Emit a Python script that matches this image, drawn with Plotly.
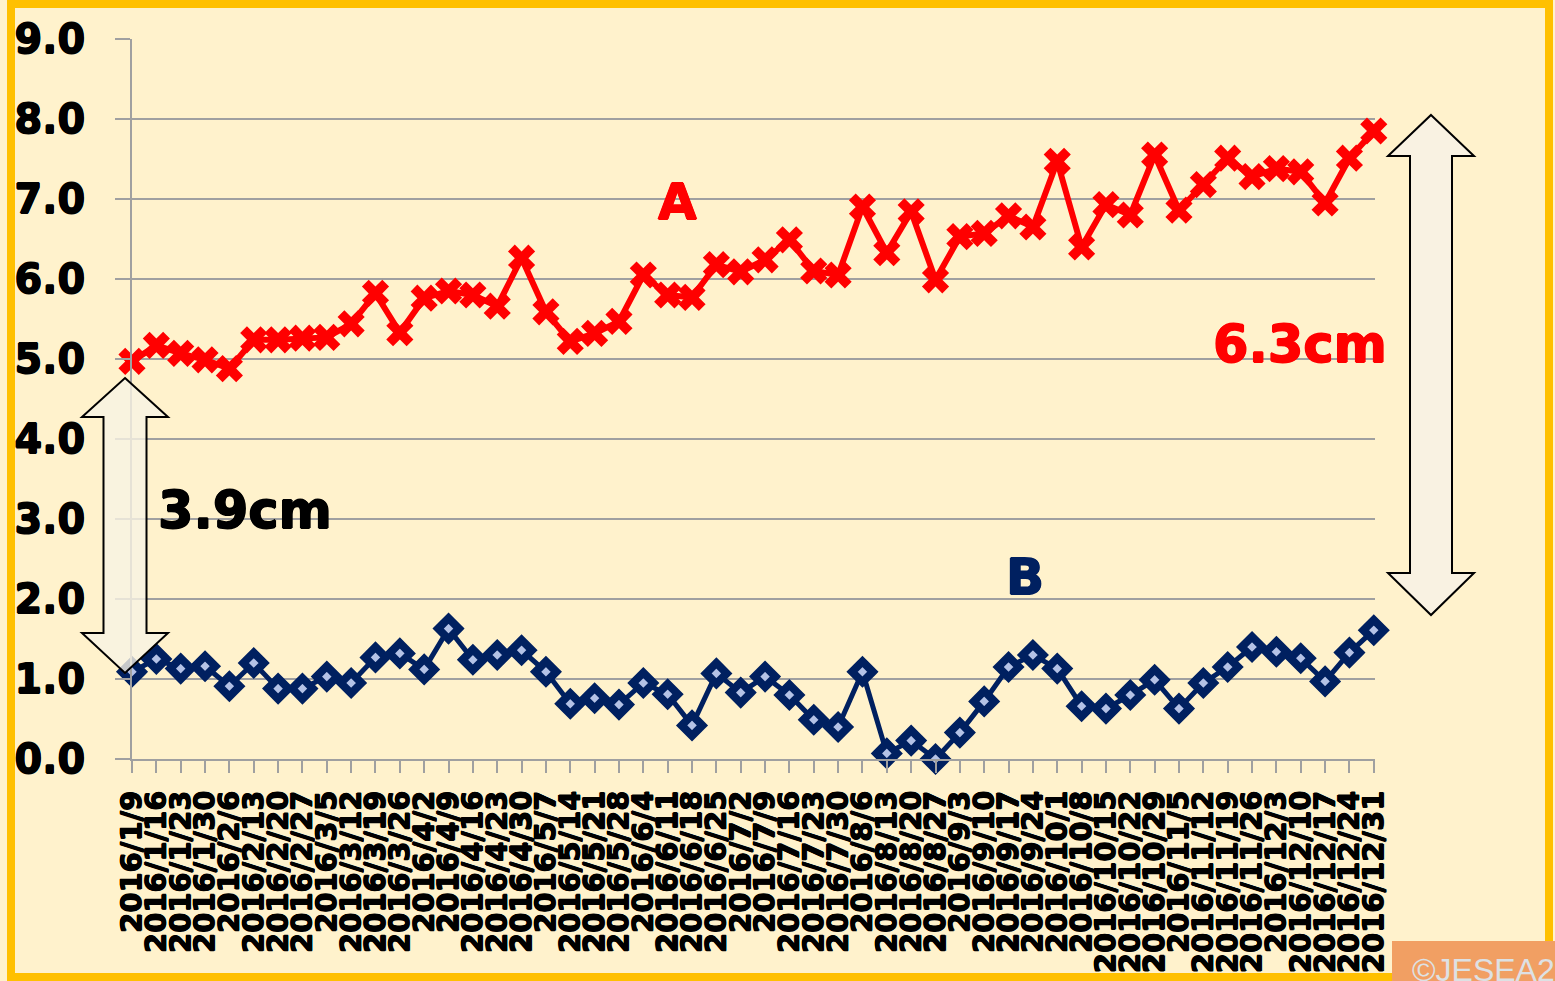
import plotly.graph_objects as go

dates = ["2016/1/9", "2016/1/16", "2016/1/23", "2016/1/30", "2016/2/6", "2016/2/13", "2016/2/20",
         "2016/2/27", "2016/3/5", "2016/3/12", "2016/3/19", "2016/3/26", "2016/4/2", "2016/4/9",
         "2016/4/16", "2016/4/23", "2016/4/30", "2016/5/7", "2016/5/14", "2016/5/21", "2016/5/28",
         "2016/6/4", "2016/6/11", "2016/6/18", "2016/6/25", "2016/7/2", "2016/7/9", "2016/7/16",
         "2016/7/23", "2016/7/30", "2016/8/6", "2016/8/13", "2016/8/20", "2016/8/27", "2016/9/3",
         "2016/9/10", "2016/9/17", "2016/9/24", "2016/10/1", "2016/10/8", "2016/10/15", "2016/10/22",
         "2016/10/29", "2016/11/5", "2016/11/12", "2016/11/19", "2016/11/26", "2016/12/3",
         "2016/12/10", "2016/12/17", "2016/12/24", "2016/12/31"]

series_a = [4.97, 5.17, 5.07, 4.99, 4.88, 5.24, 5.24, 5.26, 5.27, 5.44, 5.82, 5.33, 5.76, 5.85,
            5.8, 5.66, 6.26, 5.59, 5.22, 5.32, 5.47, 6.05, 5.8, 5.77, 6.18, 6.09, 6.24, 6.49, 6.1,
            6.05, 6.9, 6.33, 6.84, 5.99, 6.53, 6.57, 6.79, 6.65, 7.47, 6.4, 6.93, 6.8, 7.55, 6.86,
            7.18, 7.51, 7.28, 7.38, 7.34, 6.95, 7.51, 7.85]

series_b = [1.09, 1.25, 1.13, 1.16, 0.91, 1.2, 0.88, 0.88, 1.03, 0.95, 1.27, 1.32, 1.12, 1.63, 1.24,
            1.3, 1.36, 1.09, 0.69, 0.76, 0.68, 0.95, 0.81, 0.42, 1.07, 0.83, 1.03, 0.8, 0.49, 0.4,
            1.09, 0.07, 0.23, 0.0, 0.33, 0.72, 1.15, 1.3, 1.13, 0.66, 0.63, 0.8, 0.99, 0.63, 0.95,
            1.15, 1.4, 1.34, 1.26, 0.97, 1.33, 1.61]

W, H = 1555, 981
L, R, T, B = 132, 180, 39, 222
PW, PH = W - L - R, H - T - B

def px(x):
    return (x - L) / PW

def py(y):
    return (H - B - y) / PH

def path(pts):
    return "M " + " L ".join(f"{px(a):.5f},{py(b):.5f}" for a, b in pts) + " Z"

FONT = "DejaVu Sans"

def thick(c, w=0.6):
    return f"{w}px 0 0 {c}, -{w}px 0 0 {c}, 0 {w}px 0 {c}, 0 -{w}px 0 {c}"

fig = go.Figure()
fig.add_trace(go.Scatter(
    x=dates, y=series_a, mode="lines+markers", name="A",
    line=dict(color="#FF0000", width=6),
    marker=dict(symbol="x", size=24, color="#FF0000", line=dict(width=0)),
    cliponaxis=False))
fig.add_trace(go.Scatter(
    x=dates, y=series_b, mode="lines+markers", name="B",
    line=dict(color="#002060", width=5),
    marker=dict(symbol="diamond", size=16, color="#B4C2E6", line=dict(color="#002060", width=8)),
    cliponaxis=False))

def arrow(cx, top, hb1, hb2, bot, hw, sw):
    return [(cx, top), (cx + hw, hb1), (cx + sw, hb1), (cx + sw, hb2), (cx + hw, hb2), (cx, bot),
            (cx - hw, hb2), (cx - sw, hb2), (cx - sw, hb1), (cx - hw, hb1)]

shapes = [
    dict(type="path", xref="paper", yref="paper", path=path(arrow(125, 378, 417, 633, 673, 43, 21.5)),
         fillcolor="rgba(248,242,228,0.8)", line=dict(color="black", width=2)),
    dict(type="path", xref="paper", yref="paper", path=path(arrow(1431, 115, 156, 573, 615, 43, 21)),
         fillcolor="rgba(248,242,228,0.9)", line=dict(color="black", width=2)),
    dict(type="rect", xref="paper", yref="paper", x0=px(11), x1=px(1549), y0=py(4), y1=py(977),
         line=dict(color="#FFC000", width=8), fillcolor="rgba(0,0,0,0)"),
    dict(type="rect", xref="paper", yref="paper", x0=px(1392), x1=px(1560), y0=py(941), y1=py(990),
         line=dict(width=0), fillcolor="#F19F63"),
]

def ann(text, x, y, size, color, family=FONT, weight="bold", xanchor="center", yanchor="middle",
        shadow=None):
    f = dict(family=family, size=size, color=color, weight=weight)
    if shadow:
        f["shadow"] = shadow
    return dict(text=text, x=px(x), y=py(y), xref="paper", yref="paper", showarrow=False,
                xanchor=xanchor, yanchor=yanchor, font=f)

annotations = [
    ann("A", 677, 202, 50, "#FF0000", shadow=thick("#FF0000", 0.8)),
    ann("B", 1025, 577, 50, "#002060", shadow=thick("#002060", 0.8)),
    ann("3.9cm", 245, 510, 51, "#000000", shadow=thick("#000000", 0.8)),
    ann("6.3cm", 1300, 344, 51, "#FF0000", shadow=thick("#FF0000", 0.8)),
    ann("©JESEA2016", 1410, 950, 32, "#DDE1E4", family="Liberation Sans", weight="normal",
        xanchor="left", yanchor="top"),
]

fig.update_layout(
    width=W, height=H,
    margin=dict(l=L, r=R, t=T, b=B, pad=0),
    paper_bgcolor="#FFF2CC", plot_bgcolor="#FFF2CC",
    showlegend=False,
    shapes=shapes, annotations=annotations,
    xaxis=dict(
        type="category", range=[0, 51.05], tickmode="array", tickvals=dates, ticktext=dates,
        tickangle=-90, ticks="outside", ticklen=12, tickcolor="#A0A0A0", tickwidth=1.5,
        showline=True, linecolor="#A0A0A0", linewidth=2, showgrid=False, zeroline=False,
        tickfont=dict(family=FONT, size=29, color="#000000", weight="bold", shadow=thick("#000")),
        ticklabelstandoff=6, automargin=False,
    ),
    yaxis=dict(
        range=[0, 9], dtick=1, tick0=0, tickformat=".1f",
        ticks="outside", ticklen=15, tickcolor="#A0A0A0", tickwidth=1.5,
        showgrid=True, gridcolor="#A0A0A0", gridwidth=1.5,
        showline=True, linecolor="#A0A0A0", linewidth=1.5, zeroline=False,
        tickfont=dict(family=FONT, size=40, color="#000000", weight="bold", shadow=thick("#000")),
        ticklabelstandoff=22, automargin=False,
    ),
)

fig.write_html("out.html")
